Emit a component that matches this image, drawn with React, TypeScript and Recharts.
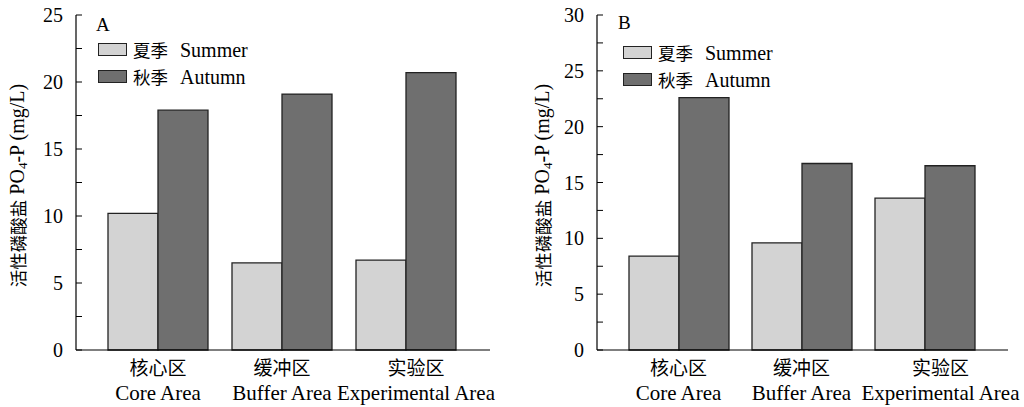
import React from 'react';
import { BarChart, Bar, XAxis, YAxis, Legend } from 'recharts';

const categoriesZh = ['核心区', '缓冲区', '实验区'];
const categoriesEn = ['Core Area', 'Buffer Area', 'Experimental Area'];
const seriesNames = ['夏季 Summer', '秋季 Autumn'];

const summerA = [10.2, 6.5, 6.7];
const autumnA = [17.9, 19.1, 20.7];
const summerB = [8.4, 9.6, 13.6];
const autumnB = [22.6, 16.7, 16.5];

const ticksA = [0, 2.5, 5, 7.5, 10, 12.5, 15, 17.5, 20, 22.5, 25];
const ticksB = [0, 2.5, 5, 7.5, 10, 12.5, 15, 17.5, 20, 22.5, 25, 27.5, 30];

const FONT = "'Liberation Serif', 'Times New Roman', Times, 'DejaVu Serif', serif";
const CJK = "'Noto Sans CJK SC', sans-serif";
const SUMMER_FILL = '#d3d3d3';
const AUTUMN_FILL = '#6f6f6f';
const OUTLINE = '#222';

function YTick(props: any) {
  const { x, y, payload } = props;
  const major = payload.value % 5 === 0;
  return (
    <g>
      <line x1={x} y1={y} x2={x + 6} y2={y} stroke="#000" strokeWidth={1} />
      {major && (
        <text x={x - 13} y={y} dy="0.35em" textAnchor="end" fontSize={20} style={{ fontFamily: FONT }} fill="#000">
          {payload.value}
        </text>
      )}
    </g>
  );
}

function XTick(props: any) {
  const { x, y, payload, lastShift } = props;
  const i = categoriesZh.indexOf(payload.value);
  const cx = x + (i === categoriesZh.length - 1 ? lastShift : 0);
  return (
    <g fill="#000">
      <text x={cx} y={y + 25} textAnchor="middle" fontSize={19} style={{ fontFamily: CJK }}>
        {payload.value}
      </text>
      <text x={cx} y={y + 50} textAnchor="middle" fontSize={21} style={{ fontFamily: FONT }}>
        {categoriesEn[i]}
      </text>
    </g>
  );
}

function YLabel(props: any) {
  const { viewBox, labelX } = props;
  const cx = labelX;
  const cy = viewBox.y + viewBox.height / 2 + 3;
  return (
    <text
      x={cx}
      y={cy}
      transform={`rotate(-90, ${cx}, ${cy})`}
      textAnchor="middle"
      dominantBaseline="central"
      fontSize={20}
      style={{ fontFamily: FONT }}
      fill="#000"
    >
      <tspan fontSize={17.5} style={{ fontFamily: CJK }}>活性磷酸盐</tspan>
      <tspan> PO</tspan>
      <tspan dy={5} fontSize={13}>4</tspan>
      <tspan dy={-5}>-P (mg/L)</tspan>
    </text>
  );
}

function LegendBlock(props: any) {
  const { payload, letter, letterDx, letterDy } = props;
  return (
    <div style={{ fontFamily: FONT, color: '#000' }}>
      <div style={{ fontSize: 19, lineHeight: '20px', height: 21, marginLeft: letterDx, position: 'relative', top: letterDy }}>
        {letter}
      </div>
      {(payload || []).map((p: any) => {
        const [zh, en] = String(p.value).split(' ');
        return (
          <div key={p.value} style={{ display: 'flex', alignItems: 'center', height: 27 }}>
            <span
              style={{
                display: 'inline-block',
                width: 29,
                height: 13,
                background: p.color,
                border: `1.5px solid ${OUTLINE}`,
                boxSizing: 'border-box',
              }}
            />
            <span style={{ marginLeft: 6, fontSize: 17.5, lineHeight: '20px', fontFamily: CJK }}>{zh}</span>
            <span style={{ marginLeft: 12, fontSize: 20, lineHeight: '20px' }}>{en}</span>
          </div>
        );
      })}
    </div>
  );
}

function Panel(props: any) {
  const { summer, autumn, ticks, max, letter, width, yWidth, right, labelX, legendLeft, legendTop, letterDx, letterDy, lastShift } = props;
  const data = categoriesZh.map((zh, i) => ({ zh, summer: summer[i], autumn: autumn[i] }));
  return (
    <BarChart
      width={width}
      height={407}
      data={data}
      margin={{ top: 15, right, bottom: 0, left: 0 }}
      barCategoryGap={12}
      barGap={0}
    >
      <XAxis
        dataKey="zh"
        height={57}
        padding={{ left: 20, right: 22 }}
        interval={0}
        tickLine={false}
        tickSize={0}
        tickMargin={0}
        axisLine={{ stroke: '#000', strokeWidth: 1.2 }}
        tick={<XTick lastShift={lastShift} />}
      />
      <YAxis
        width={yWidth}
        domain={[0, max]}
        ticks={ticks}
        interval={0}
        tickLine={false}
        tickSize={0}
        tickMargin={0}
        axisLine={{ stroke: '#000', strokeWidth: 1.2 }}
        tick={<YTick />}
        label={{ content: (p: any) => <YLabel {...p} labelX={labelX} /> }}
      />
      <Legend
        layout="vertical"
        align="center"
        verticalAlign="middle"
        wrapperStyle={{ left: legendLeft, top: legendTop, width: 220 }}
        content={(p: any) => <LegendBlock {...p} letter={letter} letterDx={letterDx} letterDy={letterDy} />}
      />
      <Bar dataKey="summer" name={seriesNames[0]} fill={SUMMER_FILL} stroke={OUTLINE} strokeWidth={1.3} isAnimationActive={false} />
      <Bar dataKey="autumn" name={seriesNames[1]} fill={AUTUMN_FILL} stroke={OUTLINE} strokeWidth={1.3} isAnimationActive={false} />
    </BarChart>
  );
}

export default function App() {
  return (
    <div style={{ position: 'absolute', left: 0, top: 0, width: 1024, height: 407, background: '#fff', overflow: 'hidden' }}>
      <div style={{ position: 'absolute', left: 0, top: 0 }}>
        <Panel
          summer={summerA}
          autumn={autumnA}
          ticks={ticksA}
          max={25}
          letter="A"
          width={510}
          yWidth={76}
          right={20}
          labelX={17}
          legendLeft={98}
          legendTop={15}
          letterDx={-2}
          letterDy={0}
          lastShift={10}
        />
      </div>
      <div style={{ position: 'absolute', left: 510, top: 0 }}>
        <Panel
          summer={summerB}
          autumn={autumnB}
          ticks={ticksB}
          max={30}
          letter="B"
          width={514}
          yWidth={87}
          right={16}
          labelX={32}
          legendLeft={113}
          legendTop={18}
          letterDx={-5}
          letterDy={-5}
          lastShift={16}
        />
      </div>
    </div>
  );
}
